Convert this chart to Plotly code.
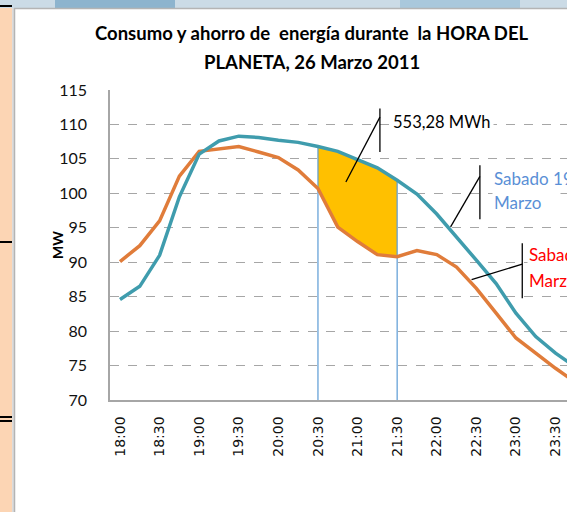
import plotly.graph_objects as go

# 15-minute steps, 18:00 .. 23:45
times = ["18:00", "18:15", "18:30", "18:45", "19:00", "19:15", "19:30", "19:45",
         "20:00", "20:15", "20:30", "20:45", "21:00", "21:15", "21:30", "21:45",
         "22:00", "22:15", "22:30", "22:45", "23:00", "23:15", "23:30", "23:45"]

sabado_19 = [84.6, 86.5, 91.0, 99.5, 105.7, 107.6, 108.3, 108.1,
             107.7, 107.4, 106.8, 106.1, 104.9, 103.7, 101.9, 99.9,
             97.0, 93.7, 90.3, 86.9, 82.6, 79.2, 76.8, 74.8]

sabado_26 = [90.1, 92.4, 96.0, 102.5, 106.1, 106.4, 106.8, 106.0,
             105.2, 103.4, 100.7, 95.1, 93.0, 91.1, 90.8, 91.7,
             91.1, 89.3, 86.2, 82.6, 79.0, 76.8, 74.6, 72.6]

hora_inicio = "20:30"
hora_fin = "21:30"
ahorro_txt = "553,28 MWh"

W, H = 567, 512
L, R, T, B = 110, 0, 90, 112

TEAL = "#3F9CAD"
ORANGE = "#E07C3A"
YELLOW = "#FFC000"
DROP = "#5B9BD5"
GRID = "#A6A6A6"

idx = list(range(len(times)))
i0, i1 = times.index(hora_inicio), times.index(hora_fin)


def px(x):
    return (x - L) / (W - L - R)


def py(y):
    return (H - B - y) / (H - B - T)


fig = go.Figure()

# saved-energy area between the two days
area_x = idx[i0:i1 + 1] + idx[i0:i1 + 1][::-1]
area_y = sabado_26[i0:i1 + 1] + sabado_19[i0:i1 + 1][::-1]
fig.add_trace(go.Scatter(x=area_x, y=area_y, fill="toself", fillcolor=YELLOW,
                         mode="lines", line=dict(width=0), hoverinfo="skip"))

for i in (i0, i1):
    fig.add_trace(go.Scatter(x=[i, i], y=[70, sabado_19[i]], mode="lines",
                             line=dict(color=DROP, width=1.2), hoverinfo="skip"))

fig.add_trace(go.Scatter(x=idx, y=sabado_26, mode="lines", name="Sabado 26 Marzo",
                         line=dict(color=ORANGE, width=3.5)))
fig.add_trace(go.Scatter(x=idx, y=sabado_19, mode="lines", name="Sabado 19 Marzo",
                         line=dict(color=TEAL, width=3.5)))

fig.update_xaxes(
    range=[-0.505, 22.58], tickvals=idx[::2], ticktext=times[::2],
    tickangle=-90, showgrid=False, zeroline=False,
    showline=True, linecolor=GRID, linewidth=1.5,
    ticklabelstandoff=9,
    tickfont=dict(family="DejaVu Sans", size=14, color="#111"),
)
fig.update_yaxes(
    range=[70, 115], dtick=5, showgrid=True, gridcolor=GRID, griddash="dash",
    gridwidth=1, zeroline=False, showline=True, linecolor=GRID, linewidth=1.5,
    ticklabelstandoff=18,
    tickfont=dict(family="Lato", size=16, color="#111"),
)

callouts = [
    # (bar x, bar y0, bar y1, line from, line to)
    ((13.13, 106.0, 112.3), (13.13, 111.06), (11.41, 101.64)),
    ((18.18, 96.23, 104.06), (18.18, 102.46), (16.70, 95.12)),
    ((20.32, 84.78, 92.75), (20.32, 89.71), (17.76, 87.49)),
]
shapes = []
for (bx, by0, by1), (ax, ay), (tx, ty) in callouts:
    shapes.append(dict(type="line", xref="x", yref="y", x0=bx, x1=bx, y0=by0, y1=by1,
                       line=dict(color="black", width=1.3)))
    shapes.append(dict(type="line", xref="x", yref="y", x0=ax, x1=tx, y0=ay, y1=ty,
                       line=dict(color="black", width=1.3)))

# window chrome around the cropped Excel chart
shapes += [
    dict(type="rect", xref="paper", yref="paper", x0=px(0), x1=px(12), y0=py(512), y1=py(8),
         fillcolor="#FCD5B4", line=dict(width=0), layer="below"),
    dict(type="rect", xref="paper", yref="paper", x0=px(12), x1=px(14), y0=py(512), y1=py(8),
         fillcolor="#DCDCDC", line=dict(width=0), layer="below"),
    dict(type="rect", xref="paper", yref="paper", x0=px(0), x1=px(567), y0=py(8), y1=py(0),
         fillcolor="#CBDBE6", line=dict(width=0), layer="below"),
    dict(type="rect", xref="paper", yref="paper", x0=px(55), x1=px(175), y0=py(8), y1=py(0),
         fillcolor="#8DB4CE", line=dict(width=0), layer="below"),
    dict(type="rect", xref="paper", yref="paper", x0=px(400), x1=px(520), y0=py(8), y1=py(0),
         fillcolor="#A9C8DC", line=dict(width=0), layer="below"),
    dict(type="line", xref="paper", yref="paper", x0=px(14.5), x1=px(14.5), y0=py(512), y1=py(8),
         line=dict(color="#B4B4B4", width=1.5)),
    dict(type="line", xref="paper", yref="paper", x0=px(14), x1=px(567), y0=py(8.5), y1=py(8.5),
         line=dict(color="#B4B4B4", width=1.5)),
]
for yy in (6, 242, 417, 421):
    shapes.append(dict(type="line", xref="paper", yref="paper", x0=px(0), x1=px(12),
                       y0=py(yy), y1=py(yy), line=dict(color="black", width=2)))

title_font = dict(family="Lato", size=18.5, color="black")
blue_txt = dict(family="Lato", size=17, color="#5A8FD6")
red_txt = dict(family="Lato", size=17, color="#FF0000")
annotations = [
    dict(text="<b>Consumo y ahorro de  energía durante  la HORA DEL</b>", xref="paper", yref="paper",
         x=px(312), y=py(33), xanchor="center", yanchor="middle", showarrow=False, font=title_font),
    dict(text="<b>PLANETA, 26 Marzo 2011</b>", xref="paper", yref="paper",
         x=px(312), y=py(62), xanchor="center", yanchor="middle", showarrow=False, font=title_font),
    dict(text="<b>MW</b>", xref="paper", yref="paper", x=px(57), y=0.5, textangle=-90,
         xanchor="center", yanchor="middle", showarrow=False,
         font=dict(family="Lato", size=14, color="black")),
    dict(text=ahorro_txt, xref="x", yref="y", x=13.6, y=110.33, xanchor="left",
         showarrow=False, bgcolor="white", borderpad=3,
         font=dict(family="Lato", size=16.5, color="black")),
    dict(text="Sabado 19 ", xref="x", yref="y", x=18.77, y=102.2, xanchor="left",
         showarrow=False, bgcolor="white", font=blue_txt),
    dict(text="Marzo    ", xref="x", yref="y", x=18.77, y=98.6, xanchor="left",
         showarrow=False, bgcolor="white", font=blue_txt),
    dict(text="Sabado 26", xref="x", yref="y", x=20.54, y=91.05, xanchor="left",
         showarrow=False, bgcolor="white", font=red_txt),
    dict(text="Marzo    ", xref="x", yref="y", x=20.54, y=87.4, xanchor="left",
         showarrow=False, bgcolor="white", font=red_txt),
]

fig.update_layout(
    width=W, height=H, margin=dict(l=L, r=R, t=T, b=B),
    paper_bgcolor="white", plot_bgcolor="white",
    showlegend=False, shapes=shapes, annotations=annotations,
)

# the page body has an 8px default margin; drop it so the chart sits at 0,0
fig.write_html("out.html", config={"displayModeBar": False},
               post_script="document.body.style.margin='0';")
